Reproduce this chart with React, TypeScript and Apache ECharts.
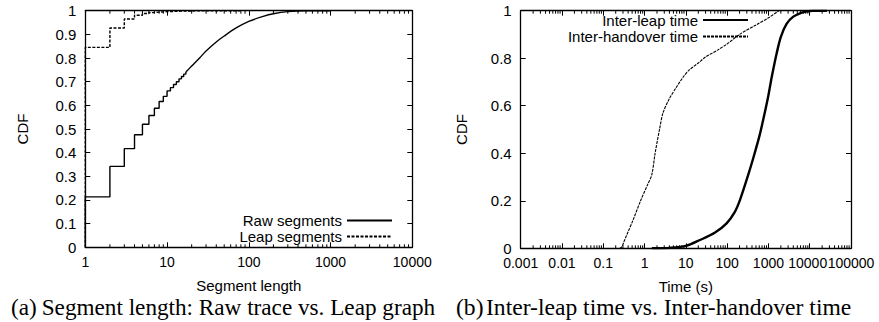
import React, { useEffect, useRef } from "react";
import * as echarts from "echarts";

// ---------- Data (a): segment length CDF ----------
const rawStepLen = [1, 1, 2, 3, 4, 5, 6, 7, 8, 9, 10, 11, 12, 13, 14, 15, 16, 17];
const rawStepCdf = [0, 0.213, 0.342, 0.417, 0.476, 0.52, 0.557, 0.588, 0.616, 0.638, 0.661, 0.675, 0.688, 0.7, 0.712, 0.722, 0.732, 0.741];
const rawTailLen = [17, 20, 25, 30, 40, 50, 70, 100, 150, 200, 300, 500, 1000];
const rawTailCdf = [0.741, 0.766, 0.8, 0.83, 0.868, 0.893, 0.927, 0.955, 0.976, 0.987, 0.996, 1.0, 1.0];
const leapLen = [1, 1, 2, 3, 4, 5, 6, 7, 8, 10, 15, 20, 40, 80];
const leapCdf = [0, 0.845, 0.927, 0.965, 0.981, 0.988, 0.992, 0.994, 0.996, 0.998, 0.999, 1, 1, 1];

// ---------- Data (b): inter-leap / inter-handover time CDF ----------
const handoverT = [0.25, 0.28, 0.32, 0.4, 0.53, 0.8, 1.2, 1.5, 1.8, 2.3, 2.8, 4, 6, 9, 12, 20, 30, 60, 100, 200, 500, 1000, 1800];
const handoverCdf = [0, 0.005, 0.03, 0.07, 0.12, 0.2, 0.27, 0.31, 0.4, 0.5, 0.57, 0.63, 0.68, 0.725, 0.75, 0.78, 0.805, 0.835, 0.86, 0.9, 0.94, 0.97, 1.0];
const leapT = [1.5, 4, 10, 22, 50, 97, 150, 204, 325, 430, 600, 745, 990, 1200, 1580, 2000, 2750, 4000, 5800, 8000, 12000, 26000];
const leapTCdf = [0, 0.002, 0.01, 0.035, 0.065, 0.105, 0.15, 0.203, 0.31, 0.38, 0.47, 0.54, 0.64, 0.72, 0.82, 0.89, 0.945, 0.975, 0.989, 0.996, 1, 1];

// ---------- Tick labels ----------
const xTicksA = ["1", "10", "100", "1000", "10000"];
const xTicksB = ["0.001", "0.01", "0.1", "1", "10", "100", "1000", "10000", "100000"];
const yTicksA = ["0", "0.1", "0.2", "0.3", "0.4", "0.5", "0.6", "0.7", "0.8", "0.9", "1"];
const yTicksB = ["0", "0.2", "0.4", "0.6", "0.8", "1"];
// label that echarts would drop as overlapping; drawn by a custom series instead
const crowdedTickB = [10000];

const seriesNames = ["Raw segments", "Leap segments", "Inter-leap time", "Inter-handover time"];
const axisTitles = ["Segment length", "Time (s)", "CDF"];
const captions = ["(a)", "Segment length: Raw trace vs. Leap graph", "(b)", "Inter-leap time vs. Inter-handover time"];

const zip = (xs: number[], ys: number[]) => xs.map((x, i) => [x, ys[i]]);

const SANS = "Liberation Sans";
const SERIF = "Liberation Serif";
const FS = 15;
const FSX = 14;

function minorTicks(minExp: number, maxExp: number) {
  const out: number[][] = [];
  for (let e = minExp; e < maxExp; e++) {
    for (let k = 2; k <= 9; k++) out.push([k * Math.pow(10, e), 0]);
  }
  return out;
}

function minorTickSeries(xi: number, yi: number, minExp: number, maxExp: number) {
  return {
    type: "custom",
    xAxisIndex: xi,
    yAxisIndex: yi,
    silent: true,
    clip: false,
    z: 5,
    data: minorTicks(minExp, maxExp),
    renderItem: (_params: any, api: any) => {
      const v = api.value(0);
      const pb = api.coord([v, 0]);
      const pt = api.coord([v, 1]);
      const st = { stroke: "#000", lineWidth: 1 };
      return {
        type: "group",
        children: [
          { type: "line", shape: { x1: pb[0], y1: pb[1], x2: pb[0], y2: pb[1] - 3 }, style: st },
          { type: "line", shape: { x1: pt[0], y1: pt[1], x2: pt[0], y2: pt[1] + 3 }, style: st },
        ],
      };
    },
  };
}

function crowdedLabelSeries(xi: number, yi: number, values: number[], labels: string[], minExp: number) {
  return {
    type: "custom",
    xAxisIndex: xi,
    yAxisIndex: yi,
    silent: true,
    clip: false,
    z: 5,
    data: values.map((v) => [v, 0]),
    renderItem: (_params: any, api: any) => {
      const v = api.value(0);
      const p = api.coord([v, 0]);
      return {
        type: "text",
        x: p[0] - 2,
        y: p[1] + 8,
        style: {
          text: labels[Math.round(Math.log10(v)) - minExp],
          font: `${FSX}px '${SANS}'`,
          fill: "#000",
          align: "center",
          verticalAlign: "top",
        },
      };
    },
  };
}

function logX(
  gridIndex: number,
  minExp: number,
  maxExp: number,
  labels: string[],
  pos: "bottom" | "top",
  name?: string,
  skip: number[] = []
) {
  return {
    type: "log",
    logBase: 10,
    gridIndex,
    position: pos,
    min: Math.pow(10, minExp),
    max: Math.pow(10, maxExp),
    interval: 1,
    name: pos === "bottom" ? name : undefined,
    nameLocation: "middle",
    nameGap: 31,
    nameTextStyle: { fontFamily: SANS, fontSize: FS, color: "#000" },
    axisLine: { show: true, onZero: false, lineStyle: { color: "#000", width: 1.3 } },
    axisTick: { show: true, inside: true, length: 5, lineStyle: { color: "#000", width: 1 } },
    axisLabel: {
      show: pos === "bottom",
      margin: 8,
      fontFamily: SANS,
      fontSize: FSX,
      color: "#000",
      showMinLabel: true,
      showMaxLabel: true,
      hideOverlap: false,
      formatter: (v: number) => {
        const e = Math.round(Math.log10(v));
        if (skip.some((s) => Math.round(Math.log10(s)) === e)) return "";
        return labels[e - minExp] ?? "";
      },
    },
    splitLine: { show: false },
  };
}

function linY(gridIndex: number, interval: number, labels: string[], pos: "left" | "right", nameGap: number) {
  return {
    type: "value",
    gridIndex,
    position: pos,
    min: 0,
    max: 1,
    interval,
    name: pos === "left" ? axisTitles[2] : undefined,
    nameLocation: "middle",
    nameGap,
    nameTextStyle: { fontFamily: SANS, fontSize: FS, color: "#000" },
    axisLine: { show: true, onZero: false, lineStyle: { color: "#000", width: 1.3 } },
    axisTick: { show: true, inside: true, length: 5, lineStyle: { color: "#000", width: 1 } },
    axisLabel: {
      show: pos === "left",
      margin: 9,
      fontFamily: SANS,
      fontSize: FS,
      color: "#000",
      formatter: (v: number) => labels[Math.round(v / interval)] ?? "",
    },
    splitLine: { show: false },
  };
}

function legendFor(name: string, right: number, top: number) {
  return {
    data: [name],
    right,
    top,
    orient: "vertical",
    align: "right",
    padding: 0,
    itemWidth: 45,
    itemHeight: 14,
    selectedMode: false,
    itemStyle: { opacity: 0 },
    textStyle: { fontFamily: SANS, fontSize: FS, lineHeight: 14, color: "#000" },
  };
}

export default function App() {
  const ref = useRef<HTMLDivElement>(null);
  useEffect(() => {
    if (!ref.current) return;
    const chart = echarts.init(ref.current, undefined, { renderer: "svg" });
    const capFont = (s: number) => `${s}px '${SERIF}'`;
    const option: any = {
      animation: false,
      backgroundColor: "#fff",
      grid: [
        { left: 85.3, top: 10.7, width: 327, height: 236.6, containLabel: false },
        { left: 520.7, top: 10.7, width: 330.3, height: 237.6, containLabel: false },
      ],
      xAxis: [
        logX(0, 0, 4, xTicksA, "bottom", axisTitles[0]),
        logX(0, 0, 4, xTicksA, "top"),
        logX(1, -3, 5, xTicksB, "bottom", axisTitles[1], crowdedTickB),
        logX(1, -3, 5, xTicksB, "top"),
      ],
      yAxis: [
        linY(0, 0.1, yTicksA, "left", 55),
        linY(0, 0.1, yTicksA, "right", 55),
        linY(1, 0.2, yTicksB, "left", 52),
        linY(1, 0.2, yTicksB, "right", 52),
      ],
      legend: [
        legendFor(seriesNames[0], 486, 213),
        legendFor(seriesNames[1], 486, 229),
        legendFor(seriesNames[2], 130, 12.5),
        legendFor(seriesNames[3], 130, 29),
      ],
      series: [
        {
          name: seriesNames[0],
          type: "line",
          xAxisIndex: 0,
          yAxisIndex: 0,
          step: "end",
          symbol: "none",
          data: zip(rawStepLen, rawStepCdf),
          lineStyle: { color: "#000", width: 1.4, type: "solid" },
          itemStyle: { color: "#000" },
          z: 3,
        },
        {
          name: seriesNames[0],
          type: "line",
          xAxisIndex: 0,
          yAxisIndex: 0,
          smooth: 0.3,
          symbol: "none",
          data: zip(rawTailLen, rawTailCdf),
          lineStyle: { color: "#000", width: 1.4, type: "solid" },
          itemStyle: { color: "#000" },
          z: 3,
        },
        {
          name: seriesNames[1],
          type: "line",
          xAxisIndex: 0,
          yAxisIndex: 0,
          step: "end",
          symbol: "none",
          data: zip(leapLen, leapCdf),
          lineStyle: { color: "#000", width: 1.4, type: [3, 1.5] },
          itemStyle: { color: "#000" },
          z: 3,
        },
        {
          name: seriesNames[2],
          type: "line",
          xAxisIndex: 2,
          yAxisIndex: 2,
          smooth: 0.3,
          symbol: "none",
          data: zip(leapT, leapTCdf),
          lineStyle: { color: "#000", width: 2.4, type: "solid" },
          itemStyle: { color: "#000" },
          z: 3,
        },
        {
          name: seriesNames[3],
          type: "line",
          xAxisIndex: 2,
          yAxisIndex: 2,
          smooth: 0.3,
          symbol: "none",
          data: zip(handoverT, handoverCdf),
          lineStyle: { color: "#000", width: 1.1, type: [3, 1] },
          itemStyle: { color: "#000" },
          z: 3,
        },
        minorTickSeries(0, 0, 0, 4),
        minorTickSeries(2, 2, -3, 5),
        crowdedLabelSeries(2, 2, crowdedTickB, xTicksB, -3),
      ],
      graphic: [
        { type: "text", x: 11, y: 307, style: { text: captions[0], font: capFont(23.2), fill: "#000", verticalAlign: "middle" } },
        { type: "text", x: 41.7, y: 307, style: { text: captions[1], font: capFont(23.2), fill: "#000", verticalAlign: "middle" } },
        { type: "text", x: 456, y: 307, style: { text: captions[2], font: capFont(23.6), fill: "#000", verticalAlign: "middle" } },
        { type: "text", x: 486, y: 307, style: { text: captions[3], font: capFont(23.6), fill: "#000", verticalAlign: "middle" } },
      ],
    };
    chart.setOption(option);
    return () => chart.dispose();
  }, []);
  return (
    <div
      ref={ref}
      style={{ position: "absolute", left: 0, top: 0, width: 879, height: 322, background: "#fff" }}
    />
  );
}
